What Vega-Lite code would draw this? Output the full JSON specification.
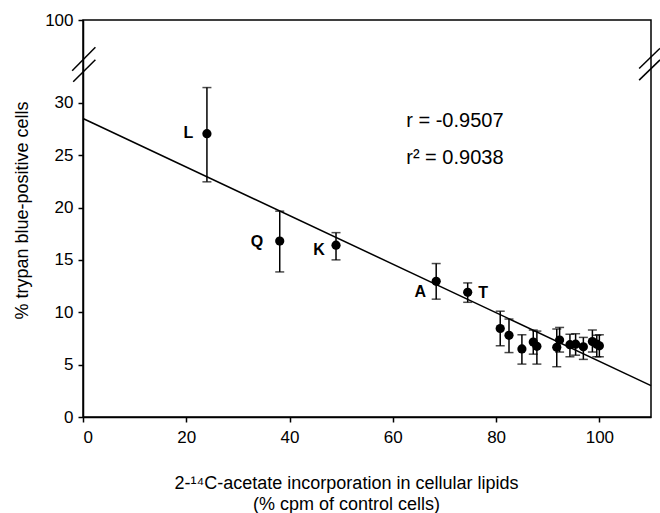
{
  "$schema": "https://vega.github.io/schema/vega-lite/v6.json",
  "width": 568,
  "height": 397,
  "autosize": {"type": "none"},
  "padding": {"left": 83, "top": 20, "right": 9, "bottom": 96},
  "background": "white",
  "config": {
    "view": {"stroke": "black", "strokeWidth": 1.5},
    "font": "Liberation Sans",
    "axis": {
      "grid": false,
      "domainColor": "black",
      "domainWidth": 1.5,
      "tickColor": "black",
      "tickWidth": 1.5,
      "tickSize": 5,
      "labelFont": "Liberation Sans",
      "labelFontSize": 17,
      "labelColor": "black",
      "titleFont": "Liberation Sans",
      "titleFontSize": 18,
      "titleFontWeight": "normal",
      "titleColor": "black"
    }
  },
  "datasets": {
    "points": [
      {"x": 24.0, "y": 27.05, "lo": 22.45, "hi": 31.45},
      {"x": 38.1, "y": 16.8, "lo": 13.85, "hi": 19.65},
      {"x": 49.0, "y": 16.4, "lo": 15.0, "hi": 17.6},
      {"x": 68.4, "y": 12.95, "lo": 11.25, "hi": 14.65},
      {"x": 74.5, "y": 11.9, "lo": 10.95, "hi": 12.8},
      {"x": 80.8, "y": 8.45, "lo": 6.8, "hi": 10.1},
      {"x": 82.5, "y": 7.8, "lo": 6.15, "hi": 9.35},
      {"x": 85.0, "y": 6.5, "lo": 5.05, "hi": 7.85},
      {"x": 87.2, "y": 7.15, "lo": 6.0, "hi": 8.3},
      {"x": 87.9, "y": 6.75, "lo": 5.05, "hi": 8.2},
      {"x": 91.75, "y": 6.65, "lo": 4.8, "hi": 8.4},
      {"x": 92.3, "y": 7.35, "lo": 6.2, "hi": 8.55},
      {"x": 94.3, "y": 6.9, "lo": 5.75, "hi": 7.9},
      {"x": 95.4, "y": 6.95, "lo": 5.9, "hi": 7.95},
      {"x": 96.9, "y": 6.7, "lo": 5.5, "hi": 7.6},
      {"x": 98.65, "y": 7.2, "lo": 6.2, "hi": 8.3},
      {"x": 99.5, "y": 6.95, "lo": 5.75, "hi": 7.8},
      {"x": 100.0, "y": 6.8, "lo": 5.75, "hi": 7.85}
    ],
    "fit": [
      {"x": 0, "y": 28.5},
      {"x": 110, "y": 3.0}
    ],
    "labels": [
      {"x": 20.4, "y": 27.07, "t": "L"},
      {"x": 33.7, "y": 16.7, "t": "Q"},
      {"x": 45.7, "y": 15.9, "t": "K"},
      {"x": 65.3, "y": 11.9, "t": "A"},
      {"x": 77.5, "y": 11.8, "t": "T"}
    ],
    "stats": [
      {"x": 62.6, "y": 28.3, "t": "r = -0.9507"},
      {"x": 62.6, "y": 24.75, "t": "r² = 0.9038"}
    ],
    "breaks": [
      {"x": -2.1, "y": 33.05, "x2": 2.4, "y2": 35.3},
      {"x": -1.9, "y": 32.0, "x2": 2.4, "y2": 34.1},
      {"x": 107.7, "y": 33.27, "x2": 111.75, "y2": 35.2},
      {"x": 107.7, "y": 32.16, "x2": 111.75, "y2": 34.1}
    ]
  },
  "layer": [
    {
      "data": {"name": "fit"},
      "mark": {"type": "line", "color": "black", "strokeWidth": 1.5},
      "encoding": {
        "x": {
          "field": "x", "type": "quantitative",
          "scale": {"domain": [0, 110], "nice": false, "zero": false},
          "axis": {
            "values": [0, 20, 40, 60, 80, 100],
            "labelPadding": 7,
            "title": ["2-¹⁴C-acetate incorporation in cellular lipids", "(% cpm of control cells)"],
            "titleX": 263,
            "titleY": 71,
            "titleAlign": "center",
            "titleBaseline": "alphabetic",
            "titleLineHeight": 21
          }
        },
        "y": {
          "field": "y", "type": "quantitative",
          "scale": {"domain": [0, 37.9], "nice": false, "zero": false},
          "axis": {
            "values": [0, 5, 10, 15, 20, 25, 30, 37.9],
            "labelExpr": "datum.value > 31 ? '100' : datum.label",
            "labelPadding": 5,
            "title": "% trypan blue-positive cells",
            "titleX": -61,
            "titleY": 190,
            "titleAngle": -90,
            "titleAlign": "center",
            "titleBaseline": "middle"
          }
        }
      }
    },
    {
      "data": {"name": "points"},
      "mark": {"type": "rule", "color": "black", "strokeWidth": 1.5},
      "encoding": {
        "x": {"field": "x", "type": "quantitative"},
        "y": {"field": "lo", "type": "quantitative"},
        "y2": {"field": "hi"}
      }
    },
    {
      "data": {"name": "points"},
      "mark": {"type": "tick", "orient": "horizontal", "color": "black", "size": 9, "thickness": 1.5},
      "encoding": {
        "x": {"field": "x", "type": "quantitative"},
        "y": {"field": "lo", "type": "quantitative"}
      }
    },
    {
      "data": {"name": "points"},
      "mark": {"type": "tick", "orient": "horizontal", "color": "black", "size": 9, "thickness": 1.5},
      "encoding": {
        "x": {"field": "x", "type": "quantitative"},
        "y": {"field": "hi", "type": "quantitative"}
      }
    },
    {
      "data": {"name": "points"},
      "mark": {"type": "circle", "color": "black", "opacity": 1, "size": 85},
      "encoding": {
        "x": {"field": "x", "type": "quantitative"},
        "y": {"field": "y", "type": "quantitative"}
      }
    },
    {
      "data": {"name": "labels"},
      "mark": {"type": "text", "color": "black", "fontSize": 16, "fontWeight": "bold", "align": "center", "baseline": "middle"},
      "encoding": {
        "x": {"field": "x", "type": "quantitative"},
        "y": {"field": "y", "type": "quantitative"},
        "text": {"field": "t"}
      }
    },
    {
      "data": {"name": "stats"},
      "mark": {"type": "text", "color": "black", "fontSize": 20, "align": "left", "baseline": "middle"},
      "encoding": {
        "x": {"field": "x", "type": "quantitative"},
        "y": {"field": "y", "type": "quantitative"},
        "text": {"field": "t"}
      }
    },
    {
      "data": {"name": "breaks"},
      "mark": {"type": "rule", "color": "black", "strokeWidth": 1.5},
      "encoding": {
        "x": {"field": "x", "type": "quantitative"},
        "y": {"field": "y", "type": "quantitative"},
        "x2": {"field": "x2"},
        "y2": {"field": "y2"}
      }
    }
  ]
}
